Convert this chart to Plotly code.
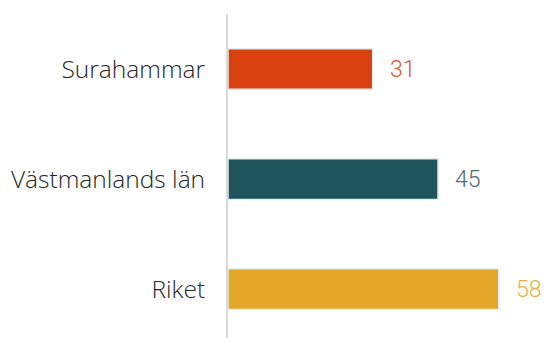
import plotly.graph_objects as go

categories = ["Surahammar", "Västmanlands län", "Riket"]
values = [31, 45, 58]
bar_colors = ["#D8400F", "#1F545C", "#E3A82A"]
text_colors = ["#E0552A", "#4A6D75", "#E8B04A"]

ypos = list(range(len(categories)))

fig = go.Figure()
fig.add_trace(go.Bar(
    x=values, y=ypos, orientation="h",
    marker=dict(color=bar_colors, line=dict(color="#E4EEEE", width=1.5)),
    width=0.37, hoverinfo="skip",
))
for v, y, c in zip(values, ypos, text_colors):
    fig.add_annotation(x=v, y=y, text=str(v), showarrow=False, xanchor="left",
                       xshift=15, font=dict(family="Roboto", size=23, color=c, weight=300))

fig.update_layout(
    width=544, height=338,
    margin=dict(l=228, r=0, t=14, b=0),
    paper_bgcolor="white", plot_bgcolor="white",
    showlegend=False,
    xaxis=dict(range=[0, 67.7], visible=False),
    yaxis=dict(range=[2.445, -0.5], tickmode="array", tickvals=ypos, ticktext=categories,
               showgrid=False, zeroline=False, showline=True, linecolor="#D9D9D9", linewidth=2,
               ticks="", ticklabelstandoff=16,
               tickfont=dict(family="Open Sans", size=24.5, color="#262626", weight=300)),
)
fig.write_html("out.html", config={"displayModeBar": False},
               post_script="document.body.style.margin='0';document.body.style.overflow='hidden';")
